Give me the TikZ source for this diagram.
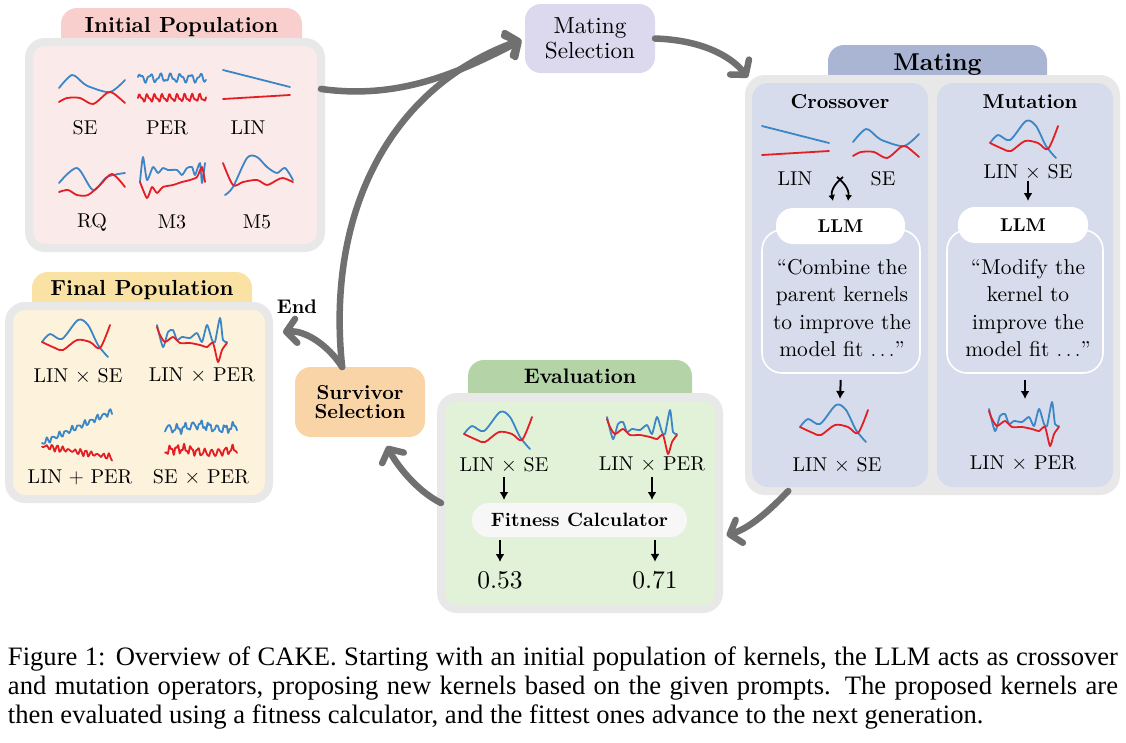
\documentclass[tikz,border=0pt]{standalone}
\usepackage{fontspec}
\setmainfont{lmroman10-regular.otf}[BoldFont=lmroman10-bold.otf,ItalicFont=lmroman10-italic.otf,BoldItalicFont=lmroman10-bolditalic.otf]
\newfontfamily\capfont{Liberation Serif}
\usetikzlibrary{arrows.meta}

\definecolor{kblue}{HTML}{3B86C6}
\definecolor{kred}{HTML}{E31E24}
\definecolor{edgegrey}{HTML}{E8E8E8}
\definecolor{flowgrey}{HTML}{707070}
\definecolor{initfill}{HTML}{FBEAEA}
\definecolor{inittab}{HTML}{F8CFCD}
\definecolor{finfill}{HTML}{FDF2DB}
\definecolor{fintab}{HTML}{FAE2A5}
\definecolor{evfill}{HTML}{E2F2D8}
\definecolor{evtab}{HTML}{B4D4A8}
\definecolor{matfill}{HTML}{D6DCEB}
\definecolor{mattab}{HTML}{A9B5D2}
\definecolor{survfill}{HTML}{F9D4A6}
\definecolor{mselfill}{HTML}{DCD9EE}

% kernel sketches, origin = top left corner
\tikzset{
  blu/.style={draw=kblue,line width=1.8pt,line join=round,line cap=round},
  rd/.style={draw=kred,line width=1.8pt,line join=round,line cap=round},
  kse/.pic={
    \draw[blu] plot[smooth] coordinates {(0,15) (13,2) (24,10) (31,14) (51,19) (66,7)};
    \draw[rd] plot[smooth] coordinates {(0,29) (8,25) (21,25) (34,31) (48,20) (54,20) (66,30)};
  },
  kper/.pic={
    \draw[blu] plot[domain=0:68,samples=80,smooth] (\x,{6-3.5*sin(36*\x)-1.5*sin(80*\x+40)});
    \draw[rd] plot[domain=0:68,samples=80,smooth] (\x,{26-3*sin(48*\x)-1.5*sin(95*\x)});
  },
  klin/.pic={
    \draw[blu] (1,0) -- (68,17);
    \draw[rd] (1,29) -- (68,25);
  },
  krq/.pic={
    \draw[blu] plot[smooth] coordinates {(0,18) (18,3) (34,25) (48,12) (66,8)};
    \draw[rd] plot[smooth] coordinates {(0,27) (9,25) (18,30) (29,30) (41,20) (53,9) (66,22)};
  },
  kmthree/.pic={
    \draw[blu] plot[smooth,tension=.4] coordinates {(2,30) (5,5) (9,28) (15,15) (20,21) (25,16) (30,18) (39,18) (44,23) (49,16) (54,15) (57,23) (62,11) (64,31) (67,11)};
    \draw[rd] plot[smooth,tension=.4] coordinates {(2,30) (9,46) (14,35) (19,41) (25,35) (35,33) (44,30) (52,28) (59,25) (64,15) (67,30)};
  },
  kmfive/.pic={
    \draw[blu] plot[smooth] coordinates {(3,45) (11,37) (25,8) (35,7) (45,17) (55,23) (63,18) (71,30)};
    \draw[rd] plot[smooth] coordinates {(1,13) (11,35) (21,32) (35,30) (45,35) (55,30) (61,28) (71,32)};
  },
  klinse/.pic={
    \draw[blu] plot[smooth] coordinates {(2,24) (10,16) (22,21) (38,2) (48,7) (58,27) (68,39)};
    \draw[rd] plot[smooth] coordinates {(2,24) (15,30) (23,32) (37,22) (50,24) (60,30) (70,7)};
  },
  klinper/.pic={
    \draw[blu] plot[smooth,tension=.4] coordinates {(2,9) (8,31) (13,16) (18,14) (22,24) (27,21) (35,22) (42,17) (47,26) (52,9) (57,24) (60,26) (65,2) (68,24) (72,26)};
    \draw[rd] plot[smooth,tension=.4] coordinates {(2,11) (5,19) (10,26) (18,21) (25,27) (35,27) (45,29) (52,31) (58,27) (63,46) (67,34) (72,27)};
  },
  klinplusper/.pic={
    \draw[blu] plot[domain=0:70,samples=45,smooth] (\x,{33-0.45*\x+2.5*sin(57*\x)+1.3*sin(140*\x)});
    \draw[rd] plot[domain=0:70,samples=45,smooth] (\x,{36+0.16*\x+2.3*sin(63*\x+20)+1.4*sin(150*\x)});
  },
  kseper/.pic={
    \draw[blu] plot[domain=0:72,samples=50,smooth] (\x,{9+3.5*sin(45*\x+90)+2*sin(115*\x+30)+2*sin(8*\x)});
    \draw[rd] plot[domain=0:72,samples=50,smooth] (\x,{33+3.5*sin(52*\x)+2*sin(125*\x+60)-2*sin(6*\x)});
  }
}

\begin{document}
\begin{tikzpicture}[x=1pt,y=-1pt,
    box/.style={draw=edgegrey,line width=8pt,rounded corners=16pt,inner sep=0pt,outer sep=0pt},
    tab/.style={rounded corners=16pt,inner sep=0pt,outer sep=0pt},
    pill/.style={fill=white,rounded corners=17pt,inner sep=0pt,outer sep=0pt,font=\fontsize{18.5}{22}\selectfont\bfseries},
    head/.style={anchor=base,inner sep=0pt,font=\fontsize{21.8}{24}\selectfont\bfseries},
    lbl/.style={inner sep=0pt,font=\fontsize{20}{24}\selectfont},
    prompttxt/.style={inner sep=0pt,align=center,font=\fontsize{21.5}{27.5}\selectfont},
    prompt/.style={draw=white,line width=1.6pt,rounded corners=20pt,inner sep=0pt,outer sep=0pt},
    flow/.style={draw=flowgrey,line width=6.5pt,line cap=round,-{Straight Barb[length=10pt,width=24pt,round]}},
    darr/.style={line width=2pt,-{Latex[length=8pt,width=9pt]}}]
\useasboundingbox (0,0) rectangle (1126,742);

% initial population
\node[tab,fill=inittab,minimum width=241pt,minimum height=52pt] (inittab) at (181.5,34) {};
\node[box,fill=initfill,minimum width=292pt,minimum height=206pt] (init) at (175,145) {};
\node[head] (inithead) at (181.5,32) {Initial Population};
\pic at (59,73) {kse};
\pic at (138,72) {kper};
\pic at (222,70) {klin};
\pic at (59,165) {krq};
\pic at (138,152) {kmthree};
\pic at (222,150) {kmfive};
\node[lbl] (ise) at (85,128) {SE};
\node[lbl] (iper) at (167,128) {PER};
\node[lbl] (ilin) at (248,128) {LIN};
\node[lbl] (irq) at (92,222) {RQ};
\node[lbl] (imthree) at (172,222) {M3};
\node[lbl] (imfive) at (257,222) {M5};

% final population
\node[tab,fill=fintab,minimum width=220pt,minimum height=50pt] (fintab) at (142,297) {};
\node[box,fill=finfill,minimum width=260pt,minimum height=193pt] (fin) at (139,402.5) {};
\node[head] (finhead) at (142,295) {Final Population};
\pic at (40,318) {klinse};
\pic at (155,316) {klinper};
\pic at (42,410) {klinplusper};
\pic at (165,418) {kseper};
\node[lbl] (flinse) at (78,376) {LIN $\times$ SE};
\node[lbl] (flinper) at (202,376) {LIN $\times$ PER};
\node[lbl] (flinplusper) at (80,477) {LIN $+$ PER};
\node[lbl] (fseper) at (201,477) {SE $\times$ PER};

% selection steps
\node[tab,fill=mselfill,minimum width=130pt,minimum height=69pt,align=center,font=\fontsize{23.2}{24.5}\selectfont] (msel) at (590,38.5) {Mating\\Selection};
\node[tab,fill=survfill,minimum width=130pt,minimum height=70pt,align=center,font=\fontsize{20.2}{18.5}\selectfont\bfseries] (surv) at (360,402) {Survivor\\Selection};
\node[inner sep=0pt,font=\fontsize{19.7}{22}\selectfont\bfseries] (endlbl) at (297,307) {End};

% mating
\node[tab,fill=mattab,minimum width=219pt,minimum height=50pt] (mattab) at (937.5,70) {};
\node[box,fill=edgegrey,minimum width=367pt,minimum height=412pt] (mat) at (932.5,285) {};
\node[head,font=\fontsize{24.3}{26}\selectfont\bfseries] (mathead) at (937.5,70) {Mating};
\node[tab,fill=matfill,minimum width=176pt,minimum height=404pt] (xpan) at (840,285) {};
\node[tab,fill=matfill,minimum width=176pt,minimum height=404pt] (mpan) at (1025,285) {};

% crossover
\node[head,font=\fontsize{20.1}{24}\selectfont\bfseries] (xhead) at (840,108) {Crossover};
\pic at (761,126) {klin};
\pic at (853,127) {kse};
\node[lbl] (xlin) at (795,179) {LIN};
\node[lbl] (xse) at (883,179) {SE};
\node[prompt,minimum width=158pt,minimum height=143pt] (xpr) at (841,301.5) {};
\node[pill,minimum width=129pt,minimum height=36pt] (xllm) at (840.5,226) {LLM};
\node[prompttxt] (xtxt) at (842,308) {``Combine the\\parent kernels\\to improve the\\model fit $\ldots$''};
\coordinate (xa) at (837,177);
\coordinate (xb) at (843,177);
\coordinate (xc) at (833,201);
\coordinate (xd) at (848,201);
\draw[darr,line width=1.8pt,-{Latex[length=6pt,width=7pt]}] (xa) .. controls (847,185) and (849,192) .. (xd);
\draw[darr,line width=1.8pt,-{Latex[length=6pt,width=7pt]}] (xb) .. controls (833,185) and (831,192) .. (xc);
\coordinate (xres) at (840,399);
\draw[darr,shorten <=7pt] (xpr.south) -- (xres);
\pic at (798,403) {klinse};
\node[lbl] (xout) at (837,465) {LIN $\times$ SE};

% mutation
\node[head,font=\fontsize{20.1}{24}\selectfont\bfseries] (mhead) at (1030,108) {Mutation};
\pic at (988,119) {klinse};
\node[lbl] (min) at (1028,172) {LIN $\times$ SE};
\node[prompt,minimum width=156pt,minimum height=143pt] (mpr) at (1025,301.5) {};
\node[pill,minimum width=130pt,minimum height=36pt] (mllm) at (1023,225) {LLM};
\node[prompttxt] (mtxt) at (1028,308) {``Modify the\\kernel to\\improve the\\model fit $\ldots$''};
\draw[darr,shorten <=1pt,shorten >=6pt] (min.south) -- (min.south |- mllm.north);
\coordinate (mres) at (1025,399);
\draw[darr,shorten <=7pt] (mpr.south) -- (mres);
\pic at (987,400) {klinper};
\node[lbl] (mout) at (1023,464) {LIN $\times$ PER};

% evaluation
\node[tab,fill=evtab,minimum width=224pt,minimum height=50pt] (evtab) at (580,385) {};
\node[box,fill=evfill,minimum width=278pt,minimum height=212pt] (ev) at (580,503) {};
\node[head,font=\fontsize{21}{24}\selectfont\bfseries] (evhead) at (580,383) {Evaluation};
\pic at (462,410) {klinse};
\pic at (605,408) {klinper};
\node[lbl] (evl) at (504,465) {LIN $\times$ SE};
\node[lbl] (evr) at (652,465) {LIN $\times$ PER};
\node[pill,fill=white!97!black,minimum width=215pt,minimum height=34pt,font=\fontsize{19.3}{22}\selectfont\bfseries] (fit) at (579.5,520) {Fitness Calculator};
\node[inner sep=0pt,font=\fontsize{25.5}{28}\selectfont] (nl) at (500,580) {0.53};
\node[inner sep=0pt,font=\fontsize{25.5}{28}\selectfont] (nr) at (655,580) {0.71};
\draw[darr,shorten <=4pt,shorten >=3pt] (evl.south) -- (evl.south |- fit.north);
\draw[darr,shorten <=4pt,shorten >=3pt] (evr.south) -- (evr.south |- fit.north);
\draw[darr,shorten <=3pt,shorten >=9pt] (nl.north |- fit.south) -- (nl.north);
\draw[darr,shorten <=3pt,shorten >=9pt] (nr.north |- fit.south) -- (nr.north);

% main loop
\draw[flow,shorten >=4pt] (init.21) .. controls (400,100) and (460,72) .. (msel.west);
\draw[flow,shorten >=4pt] (surv.117) .. controls (326,215) and (388,88) .. (msel.west);
\draw[flow,shorten >=2pt] (msel.east) .. controls (700,40) and (730,55) .. (mat.north west);
\draw[flow,shorten >=8pt] (mat.-125) .. controls (770,510) and (750,528) .. (ev.-14);
\draw[flow,shorten >=10pt] (ev.west) .. controls (415,490) and (395,462) .. (surv.-57);
\draw[flow,shorten >=14pt] (surv.117) .. controls (328,345) and (305,330) .. (fin.28);

\node[inner sep=0pt,text width=1110pt,align=justify,font=\capfont\fontsize{26.6}{29}\selectfont] (cap) at (563,688) {Figure 1: Overview of CAKE. Starting with an initial population of kernels, the LLM acts as crossover and mutation operators, proposing new kernels based on the given prompts. The proposed kernels are then evaluated using a fitness calculator, and the fittest ones advance to the next generation.};
\end{tikzpicture}
\end{document}
